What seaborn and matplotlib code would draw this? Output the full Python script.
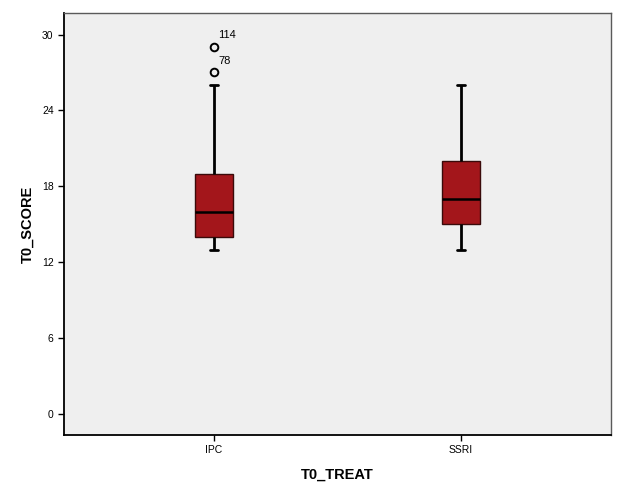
import matplotlib
matplotlib.use("Agg")
import matplotlib.pyplot as plt
import seaborn as sns
import pandas as pd

groups = ["IPC", "SSRI"]
ipc_scores = [13, 14, 14, 14, 15, 16, 16, 18, 19, 19, 26, 27, 29]
ssri_scores = [13, 15, 15, 16, 17, 18, 20, 20, 26]
outlier_values = [29, 27]
outlier_labels = ["114", "78"]
y_ticks = [0, 6, 12, 18, 24, 30]

df = pd.DataFrame({
    "T0_TREAT": ["IPC"] * len(ipc_scores) + ["SSRI"] * len(ssri_scores),
    "T0_SCORE": ipc_scores + ssri_scores,
})

sns.set_theme(style="white")
plt.rcParams["font.family"] = ["Liberation Sans", "DejaVu Sans"]
plt.rcParams["text.color"] = "black"
plt.rcParams["axes.labelcolor"] = "black"
plt.rcParams["xtick.color"] = "black"
plt.rcParams["ytick.color"] = "black"

fig = plt.figure(figsize=(6.25, 5), dpi=100)
ax = fig.add_axes([64 / 625, 1 - 435 / 500, (611 - 64) / 625, (435 - 13) / 500])
ax.set_facecolor("#EFEFEF")

sns.boxplot(
    data=df, x="T0_TREAT", y="T0_SCORE", order=groups, ax=ax,
    width=0.154, color="#A3161B", saturation=1,
    linewidth=1.8, linecolor="black",
    boxprops=dict(facecolor="#A3161B", edgecolor="#3A0A0A", linewidth=1.0),
    medianprops=dict(color="black", linewidth=1.8),
    whiskerprops=dict(color="black", linewidth=2.0),
    capprops=dict(color="black", linewidth=2.0),
    flierprops=dict(marker="o", markerfacecolor="none", markeredgecolor="black",
                    markersize=5.5, markeredgewidth=1.4),
    capwidths=0.036,
)

for val, lab in zip(outlier_values, outlier_labels):
    ax.annotate(lab, xy=(0, val), xytext=(3, 8.6), textcoords="offset points",
                fontsize=8, color="black", ha="left", va="center")

ax.set_xlim(-0.607, 1.607)
ax.set_ylim(-1.66, 31.7)
ax.set_yticks(y_ticks)
ax.set_yticklabels([str(t) for t in y_ticks])
ax.tick_params(axis="both", which="both", direction="out", length=4.5, width=1,
               color="black", labelcolor="black", labelsize=7.5,
               left=True, bottom=True, pad=3)

for side in ["left", "bottom"]:
    ax.spines[side].set_color("black")
    ax.spines[side].set_linewidth(1.3)
for side in ["top", "right"]:
    ax.spines[side].set_color("#5A5A5A")
    ax.spines[side].set_linewidth(1.0)

ax.set_xlabel("T0_TREAT", fontsize=10.5, fontweight="bold", labelpad=9, color="black")
ax.set_ylabel("T0_SCORE", fontsize=10.5, fontweight="bold", labelpad=5, color="black")

fig.savefig("out.png", dpi=100, facecolor="white")
